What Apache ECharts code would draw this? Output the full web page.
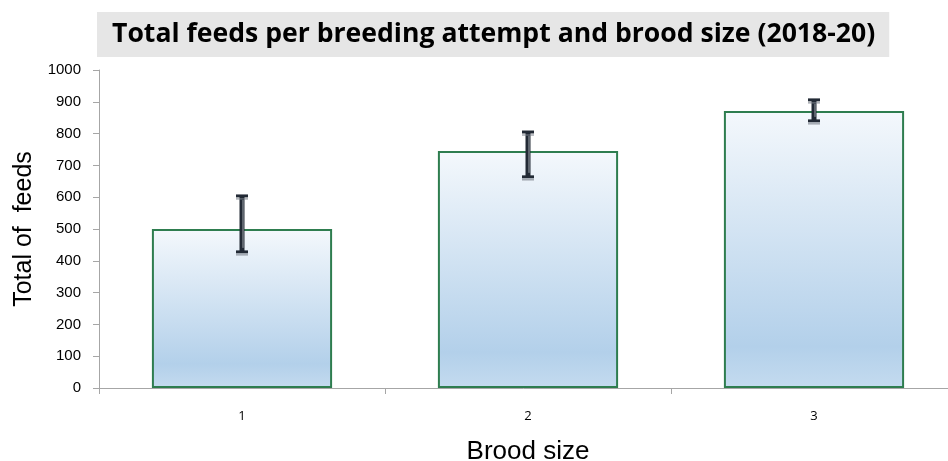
<!DOCTYPE html>
<html><head><meta charset="utf-8">
<script src="https://cdn.jsdelivr.net/npm/echarts@6/dist/echarts.min.js"></script>
<style>html,body{margin:0;padding:0;background:#fff}#c{width:948px;height:461px}</style>
</head><body><div id="c"></div>
<script>
const categories = ['1', '2', '3'];
const totalFeeds = [500, 745, 871];
const errLow = [428, 664, 840];
const errHigh = [604, 805, 906];
const yTicks = [0, 1000, 100];

const chart = echarts.init(document.getElementById('c'));
const errData = categories.map((c, i) => [i, errLow[i], errHigh[i]]);
chart.setOption({
  animation: false,
  title: {
    text: 'Total feeds per breeding attempt and brood size (2018-20)',
    left: 97, top: 12,
    padding: [7, 14, 7, 15],
    backgroundColor: '#e6e6e6',
    textStyle: { fontFamily: 'Open Sans', fontWeight: 'bold', fontSize: 26.6, color: '#000', lineHeight: 31 }
  },
  grid: { left: 99, width: 858, top: 70, bottom: 73, outerBoundsMode: 'none', containLabel: false },
  xAxis: {
    type: 'category', data: categories,
    name: 'Brood size', nameLocation: 'middle', nameGap: 51,
    nameTextStyle: { fontFamily: 'Liberation Sans', fontSize: 26, color: '#000' },
    axisLine: { lineStyle: { color: '#a6a6a6', width: 1 } },
    axisTick: { show: true, length: 6, lineStyle: { color: '#a6a6a6' } },
    axisLabel: { fontFamily: 'Open Sans', fontSize: 13, color: '#000', margin: 22 }
  },
  yAxis: {
    type: 'value', min: yTicks[0], max: yTicks[1], interval: yTicks[2],
    name: 'Total of  feeds', nameLocation: 'middle', nameGap: 60,
    nameTextStyle: { fontFamily: 'Liberation Sans', fontSize: 25, color: '#000' },
    axisLine: { show: true, lineStyle: { color: '#a6a6a6', width: 1 } },
    axisTick: { show: true, length: 6, lineStyle: { color: '#a6a6a6' } },
    splitLine: { show: false },
    axisLabel: { fontFamily: 'Liberation Sans', fontSize: 15, color: '#000', margin: 18, formatter: v => String(v) }
  },
  series: [{
    type: 'bar', data: totalFeeds, barWidth: '63%',
    itemStyle: {
      borderColor: '#2e7d4f', borderWidth: 2,
      color: new echarts.graphic.LinearGradient(0, 0, 0, 1, [
        { offset: 0, color: '#f4f8fc' },
        { offset: 0.85, color: '#b3d0ea' },
        { offset: 1, color: '#c4dbef' }
      ])
    }
  }, {
    type: 'custom', data: errData, z: 10,
    renderItem: function (params, api) {
      const x = api.value(0);
      const lo = api.coord([x, api.value(1)]);
      const hi = api.coord([x, api.value(2)]);
      const cx = lo[0];
      const hw = 6;
      return {
        type: 'group', children: [
          { type: 'line', shape: { x1: cx, y1: hi[1], x2: cx, y2: lo[1] }, style: { stroke: '#222a35', lineWidth: 5 } },
          { type: 'line', shape: { x1: cx + 1, y1: hi[1] + 4, x2: cx + 1, y2: lo[1] - 4 }, style: { stroke: '#9aa0a8', lineWidth: 1 } },
          { type: 'line', shape: { x1: cx - hw, y1: hi[1], x2: cx + hw, y2: hi[1] }, style: { stroke: '#222a35', lineWidth: 3 } },
          { type: 'line', shape: { x1: cx - hw, y1: hi[1] + 3, x2: cx + hw, y2: hi[1] + 3 }, style: { stroke: '#7a808a', lineWidth: 1 } },
          { type: 'line', shape: { x1: cx - hw, y1: lo[1], x2: cx + hw, y2: lo[1] }, style: { stroke: '#222a35', lineWidth: 3 } },
          { type: 'line', shape: { x1: cx - hw, y1: lo[1] + 3, x2: cx + hw, y2: lo[1] + 3 }, style: { stroke: '#7a808a', lineWidth: 1 } }
        ]
      };
    }
  }]
});
</script></body></html>
